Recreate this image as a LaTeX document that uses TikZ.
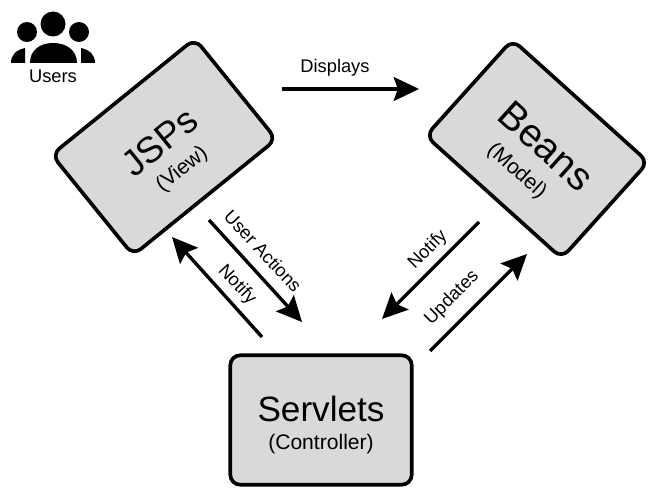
\documentclass[tikz,border=0pt]{standalone}
\usepackage{fontspec}
\setmainfont{Liberation Sans}
\usetikzlibrary{arrows.meta}

\begin{document}
\begin{tikzpicture}[x=0.025cm,y=-0.025cm]

\tikzset{tier/.style = {shape=rectangle,draw,line width=2.6pt,fill=black!15,rounded corners=7pt,align=center,inner sep=0pt}}
\tikzset{flow/.style = {-{Stealth[length=18pt,width=17pt,inset=3pt]},line width=2.4pt}}
\tikzset{flowlabel/.style = {font=\fontsize{13}{15}\selectfont,inner sep=0pt}}

\useasboundingbox (0,0) rectangle (656,499);

%tiers
\node[tier, minimum width=131pt, minimum height=92pt, rotate=39] (jsps) at (164,147)
  {\rule{0pt}{32pt}\fontsize{26}{32}\selectfont JSPs\\[8pt] \fontsize{15}{18}\selectfont (View)};
\node[tier, minimum width=130pt, minimum height=92pt, rotate=-42] (beans) at (537,149)
  {\rule{0pt}{32pt}\hspace{7pt}\fontsize{28}{32}\selectfont Beans\\[10pt] \fontsize{15}{18}\selectfont (Model)};
\node[tier, minimum width=129pt, minimum height=92pt] (servlets) at (321,420)
  {\rule{0pt}{25pt}\fontsize{25}{30}\selectfont Servlets\\[8pt] \fontsize{15}{18}\selectfont (Controller)};

%arrow ends
\coordinate (dispA) at (282,89);
\coordinate (dispB) at (419,89);
\coordinate (actA) at (209,220);
\coordinate (actB) at (302,322);
\coordinate (notA) at (262,337);
\coordinate (notB) at (172,237);
\coordinate (nobA) at (479,222);
\coordinate (nobB) at (382,319);
\coordinate (updA) at (430,351);
\coordinate (updB) at (527,254);

%arrows
\draw [flow] (dispA) -- (dispB);
\draw [flow] (actA) -- (actB);
\draw [flow] (notA) -- (notB);
\draw [flow] (nobA) -- (nobB);
\draw [flow] (updA) -- (updB);

%labels
\node[flowlabel] (displays) at (335,68) {Displays};
\node[flowlabel, rotate=-47] (actions) at (263,251) {User Actions};
\node[flowlabel, rotate=-47] (notifyl) at (237,285) {Notify};
\node[flowlabel, rotate=45] (notifyr) at (428,250) {Notify};
\node[flowlabel, rotate=45] (updates) at (452,298) {Updates};

%users
\fill (27,32) circle (10);
\fill (79,32) circle (10);
\fill[white] (53,24) circle (15.5);
\fill (53,24) circle (12.5);
\fill (11,63) .. controls (11,55) and (16,50) .. (25,48) -- (25,63) -- cycle;
\fill (95,63) .. controls (95,55) and (90,50) .. (81,48) -- (81,63) -- cycle;
\fill (30,63) .. controls (30,50) and (40,43) .. (53,43) .. controls (66,43) and (77,50) .. (77,63) -- cycle;
\node[flowlabel] (users) at (53,76) {Users};

\end{tikzpicture}
\end{document}
